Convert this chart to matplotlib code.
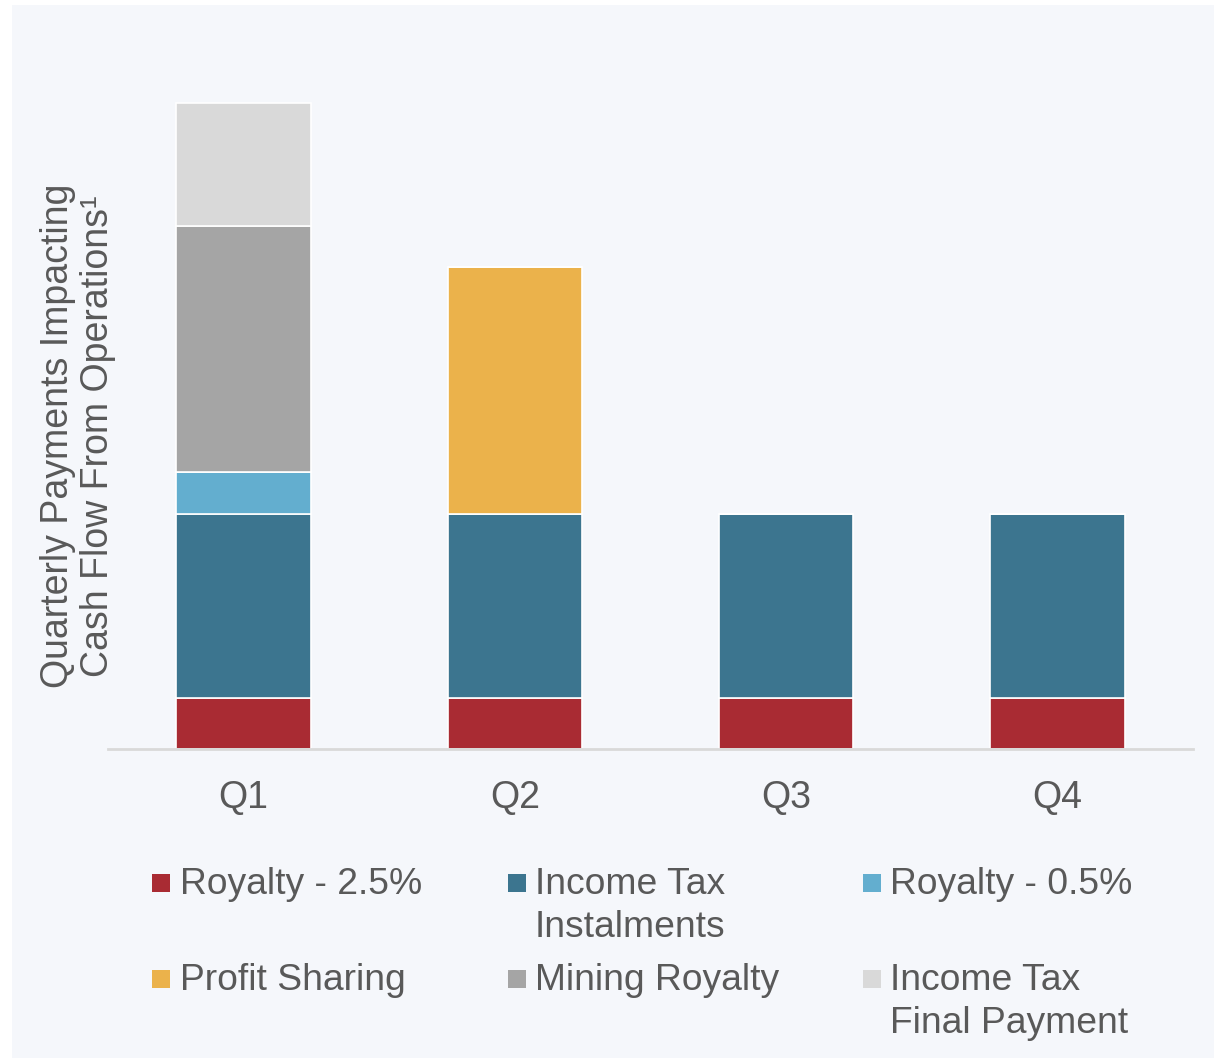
import matplotlib
matplotlib.use("Agg")
import matplotlib.pyplot as plt
from matplotlib.patches import Rectangle
import numpy as np

plt.rcParams['font.family'] = ['Liberation Sans', 'DejaVu Sans']

# ---- data (relative heights) ----
quarters = ["Q1", "Q2", "Q3", "Q4"]
series_names = ["Royalty - 2.5%", "Income Tax\nInstalments", "Royalty - 0.5%",
                "Profit Sharing", "Mining Royalty", "Income Tax\nFinal Payment"]
royalty_25 = [51, 51, 51, 51]
income_tax_instalments = [184, 184, 184, 184]
royalty_05 = [42, 0, 0, 0]
profit_sharing = [0, 247, 0, 0]
mining_royalty = [246, 0, 0, 0]
income_tax_final = [123, 0, 0, 0]
series_colors = ["#A92B33", "#3C758F", "#63AECF", "#EBB24B", "#A5A5A5", "#D9D9D9"]

series_values = [royalty_25, income_tax_instalments, royalty_05,
                 profit_sharing, mining_royalty, income_tax_final]

W, H = 1214, 1058
fig = plt.figure(figsize=(W / 100, H / 100), dpi=100, facecolor="white")
txt_color = "#595959"

# panel background
fig.patches.append(Rectangle((12 / W, 0), 1 - 12 / W, (H - 5) / H,
                             transform=fig.transFigure, facecolor="#F5F7FB",
                             edgecolor="none", zorder=-10))

ax = fig.add_axes([108 / W, (H - 749) / H, 1085 / W, (749 - 40) / H])
ax.set_zorder(1)
ax.patch.set_alpha(0)
x = np.arange(len(quarters))
bottom = np.zeros(len(quarters))
for vals, col in zip(series_values, series_colors):
    v = np.array(vals, dtype=float)
    ax.bar(x, v, width=0.495, bottom=bottom, color=col, edgecolor="white",
           linewidth=1.2, zorder=2)
    bottom += v

ax.set_xlim(-0.5, 3.5)
ax.set_ylim(0, 709)
for s in ["top", "right", "left"]:
    ax.spines[s].set_visible(False)
ax.spines["bottom"].set_color("#D9D9D9")
ax.spines["bottom"].set_linewidth(2)
ax.spines["bottom"].set_zorder(3)
ax.set_yticks([])
ax.set_xticks(x)
ax.set_xticklabels(quarters, fontsize=27, color=txt_color)
ax.tick_params(axis="x", length=0, pad=22)

# y label
fig.text(78 / W, 1 - 436 / H,
         "Quarterly Payments Impacting\nCash Flow From Operations\u00b9",
         rotation=90, ha="center", va="center", multialignment="center",
         fontsize=27, color=txt_color, linespacing=1.15)

# legend (manual, 3 columns x 2 rows)
col_marker_x = [152, 508, 863]
col_text_x = [180, 535, 890]
row_center_y = [883, 979]
for i, (name, col) in enumerate(zip(series_names, series_colors)):
    r, c = divmod(i, 3)
    cy = row_center_y[r]
    fig.patches.append(Rectangle((col_marker_x[c] / W, 1 - (cy + 9) / H),
                                 18 / W, 18 / H, transform=fig.transFigure,
                                 facecolor=col, edgecolor="none", zorder=3))
    fig.text(col_text_x[c] / W, 1 - (cy - 16) / H, name, ha="left", va="top",
             fontsize=26.8, color=txt_color, linespacing=1.28)

fig.savefig("out.png", dpi=100, facecolor=fig.get_facecolor())
